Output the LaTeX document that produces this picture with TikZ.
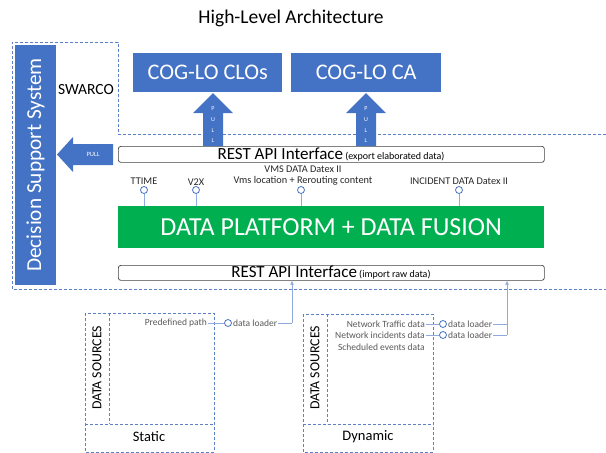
\documentclass[tikz,border=0pt]{standalone}
\usepackage{fontspec}
\setmainfont{Carlito}
\usetikzlibrary{arrows.meta,calc}
\definecolor{msblue}{HTML}{4472C4}
\definecolor{dashblue}{HTML}{5B80C8}
\definecolor{lightblue}{HTML}{8FAADC}
\definecolor{msgreen}{HTML}{00B050}
\definecolor{txtgray}{HTML}{595959}
\definecolor{boxgray}{HTML}{404040}
\begin{document}
\begin{tikzpicture}[x=1pt,y=-1pt,
  fs/.style={font=\fontsize{#1}{#1}\selectfont},
  bluebox/.style={fill=msblue, draw=none, text=white, inner sep=0pt},
  restbox/.style={draw=boxgray, fill=white, rounded corners=2.5pt, line width=0.7pt, inner sep=0pt},
  dashline/.style={draw=dashblue, line width=1pt, dash pattern=on 3pt off 2pt},
  conn/.style={draw=lightblue, line width=0.7pt},
  lolli/.style={circle, draw=msblue, line width=0.8pt, fill=white, minimum size=7pt, inner sep=0pt},
  lbl/.style={fs=10.3, text=black!85, inner sep=0pt},
  src/.style={fs=9.5, text=txtgray, inner sep=1pt},
  tip/.style={-{Latex[length=4pt,width=4pt]}, draw=lightblue, line width=0.7pt, color=lightblue}
]
\useasboundingbox (0,0) rectangle (606,453);

% title
\node[fs=19.5] (title) at (291,18) {High-Level Architecture};

% outer dashed boundary
\draw[dashline] (606,134) -- (118,134) -- (118,42) -- (12,42) -- (12,289) -- (606,289);

% decision support system
\node[bluebox, rotate=90, minimum width=240pt, minimum height=41pt, fs=21.3] (dss) at (35.5,165) {Decision Support System};
\node[fs=15.5, inner sep=0pt] (swarco) at (86,90) {SWARCO};

% COG-LO boxes
\node[bluebox, minimum width=149pt, minimum height=39pt, anchor=north west, fs=22.3] (clos) at (133,53) {COG-LO CLOs};
\node[bluebox, minimum width=150pt, minimum height=39pt, anchor=north west, fs=22.3] (ca) at (291,53) {COG-LO CA};

% REST API export
\node[restbox, minimum width=426pt, minimum height=16pt, anchor=north west] (restexp) at (118,146) {};
\node[inner sep=0pt, anchor=base] (restexpt) at (331,159) {{\fontsize{17}{17}\selectfont REST API Interface} {\fontsize{10}{10}\selectfont (export elaborated data)}};

% PULL up arrows
\foreach \cx/\nm in {213/pa, 366/pb}{
  \fill[msblue] (\cx-10,146) -- (\cx-10,113) -- (\cx-20,113) -- (\cx,93) -- (\cx+20,113) -- (\cx+10,113) -- (\cx+10,146) -- cycle;
  \foreach \yy/\ch in {109/P,120/U,131/L,141/L}{
    \node[text=white, fs=6, inner sep=0pt] at (\cx,\yy) {\ch};
  }
}

% PULL left arrow
\fill[msblue] (113,144) -- (73,144) -- (73,137) -- (57,154.5) -- (73,172) -- (73,165) -- (113,165) -- cycle;
\node[text=white, fs=6.5, inner sep=0pt] (pulll) at (93,154.5) {PULL};

% green platform
\node[fill=msgreen, text=white, minimum width=426pt, minimum height=42pt, anchor=north west, inner sep=0pt, fs=26] (dp) at (118,206) {DATA PLATFORM + DATA FUSION};

% lollipops
\node[lbl] (ttime) at (144,181) {TTIME};
\node[lbl] (v2x) at (196,182) {V2X};
\node[lbl] (vms1) at (303,169) {VMS DATA Datex II};
\node[lbl] (vms2) at (303,181) {Vms location + Rerouting content};
\node[lbl] (inc) at (459,181) {INCIDENT DATA Datex II};
\foreach \xx/\nm in {144/la, 196/lb, 301/lc, 459/ld}{
  \node[lolli] (\nm) at (\xx,190) {};
  \draw[conn] (\nm.south) -- (\nm.south |- dp.north);
}

% REST API import
\node[restbox, minimum width=426pt, minimum height=15pt, anchor=north west] (restimp) at (118,265) {};
\node[inner sep=0pt, anchor=base] (restimpt) at (331,277.5) {{\fontsize{17}{17}\selectfont REST API Interface} {\fontsize{10}{10}\selectfont (import raw data)}};

% Static data sources
\draw[dashline] (85,313) rectangle (214,452);
\draw[dashline] (109,313) -- (109,424);
\draw[dashline] (85,424) -- (214,424);
\node[fs=13.8, rotate=90, inner sep=0pt] (dss1) at (97,368) {DATA SOURCES};
\node[fs=14.5, inner sep=0pt] (static) at (149,437) {Static};
\node[src, anchor=east] (pre) at (208,323) {Predefined path};
\node[lolli] (c1) at (228,323) {};
\node[src, anchor=west] (dl1) at (232,323) {data loader};
\draw[conn] (pre.east) -- (c1.west);
\coordinate (j1) at (292,323);
\draw[conn] (dl1.east) -- (j1);
\draw[tip] (j1) -- (j1 |- restimp.south);

% Dynamic data sources
\draw[dashline] (303,314) rectangle (433,452);
\draw[dashline] (327,314) -- (327,424);
\draw[dashline] (303,424) -- (433,424);
\node[fs=13.8, rotate=90, inner sep=0pt] (dss2) at (315,368) {DATA SOURCES};
\node[fs=14.5, inner sep=0pt] (dynamic) at (368,437) {Dynamic};
\node[src, anchor=east] (ntd) at (426,324) {Network Traffic data};
\node[src, anchor=east] (nid) at (426,335) {Network incidents data};
\node[src, anchor=east] (sed) at (426,347) {Scheduled events data};
\node[lolli] (c2) at (443,324) {};
\node[lolli] (c3) at (443,335) {};
\node[src, anchor=west] (dl2) at (447,324) {data loader};
\node[src, anchor=west] (dl3) at (447,335) {data loader};
\draw[conn] (ntd.east) -- (c2.west);
\draw[conn] (nid.east) -- (c3.west);
\coordinate (j2) at (507,324);
\coordinate (j3) at (507,335);
\draw[conn] (dl2.east) -- (j2);
\draw[conn] (dl3.east) -- (j3);
\draw[tip] (j3) -- (j3 |- restimp.south);
\end{tikzpicture}
\end{document}
